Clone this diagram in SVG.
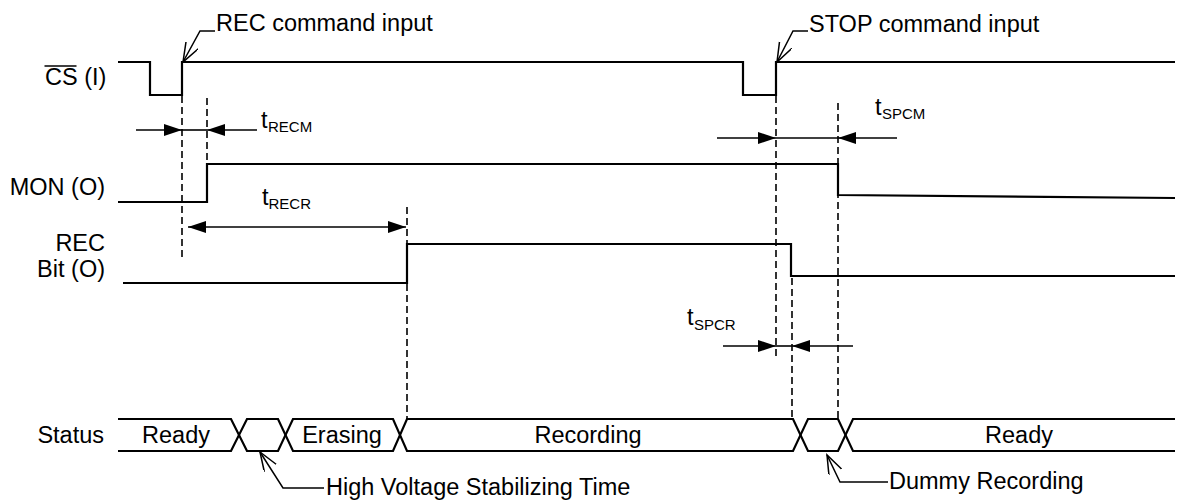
<svg xmlns="http://www.w3.org/2000/svg" width="1181" height="501" viewBox="0 0 1181 501">
<style>
text{font-family:"Liberation Sans",Arial,sans-serif;font-size:23.5px;fill:#000}
.sub{font-size:15px}
.lbl{text-anchor:end}
.mid{text-anchor:middle}
.sig{fill:none;stroke:#000;stroke-width:2.2;stroke-linejoin:miter}
.dash{fill:none;stroke:#000;stroke-width:1.6;stroke-dasharray:7,4}
.dim{fill:none;stroke:#000;stroke-width:1.6}
.lead{fill:none;stroke:#000;stroke-width:1.5}
</style>
<defs>
<marker id="tri" markerUnits="userSpaceOnUse" markerWidth="20" markerHeight="14" refX="18" refY="6" orient="auto-start-reverse">
<path d="M0,0 L18,6 L0,12 z" fill="#000"/>
</marker>
<marker id="open" markerUnits="userSpaceOnUse" markerWidth="22" markerHeight="16" refX="19" refY="7" orient="auto-start-reverse">
<path d="M0,0 L19,7 L0,14" fill="none" stroke="#000" stroke-width="1.5"/>
</marker>
</defs>
<rect width="1181" height="501" fill="#fff"/>

<g id="cs">
<text x="45" y="85">CS (I)</text>
<line x1="44.5" y1="66" x2="76.5" y2="66" stroke="#000" stroke-width="1.6"/>
<path class="sig" d="M118,62 H150 V95 H182 V62 H743 V95 H776 V62 H1175"/>
</g>

<g id="mon">
<text class="lbl" x="105" y="195">MON (O)</text>
<path class="sig" d="M118,202 H207 V164 H838 V195 L1175,198"/>
</g>

<g id="recbit">
<text class="lbl" x="105" y="251">REC</text>
<text class="lbl" x="105" y="277">Bit (O)</text>
<path class="sig" d="M123,283 H407 V244 H791 V276 H1175"/>
</g>

<g id="status">
<text class="lbl" x="104" y="443">Status</text>
<path class="sig" d="M118,419 H231 L247,451 H278 L293,419 H393 L407,451 H793 L808,419 H838 L853,451 H1175"/>
<path class="sig" d="M118,451 H231 L247,419 H278 L293,451 H393 L407,419 H793 L808,451 H838 L853,419 H1175"/>
<text class="mid" x="176" y="443">Ready</text>
<text class="mid" x="342" y="443">Erasing</text>
<text class="mid" x="588" y="443">Recording</text>
<text class="mid" x="1019" y="443">Ready</text>
</g>

<g id="connectors">
<line class="dash" x1="182" y1="96" x2="182" y2="257"/>
<line class="dash" x1="207" y1="98" x2="207" y2="164"/>
<line class="dash" x1="407" y1="207" x2="407" y2="419"/>
<line class="dash" x1="776" y1="96" x2="776" y2="358"/>
<line class="dash" x1="792" y1="278" x2="792" y2="419"/>
<line class="dash" x1="838" y1="103" x2="838" y2="419"/>

<line class="dim" x1="136" y1="130" x2="182" y2="130" marker-end="url(#tri)"/>
<line class="dim" x1="182" y1="130" x2="207" y2="130"/>
<line class="dim" x1="257" y1="130" x2="207" y2="130" marker-end="url(#tri)"/>

<line class="dim" x1="188" y1="227" x2="406" y2="227" marker-start="url(#tri)" marker-end="url(#tri)"/>

<line class="dim" x1="717" y1="138" x2="776" y2="138" marker-end="url(#tri)"/>
<line class="dim" x1="776" y1="138" x2="838" y2="138"/>
<line class="dim" x1="897" y1="138" x2="838" y2="138" marker-end="url(#tri)"/>

<line class="dim" x1="723" y1="346" x2="776" y2="346" marker-end="url(#tri)"/>
<line class="dim" x1="776" y1="346" x2="792" y2="346"/>
<line class="dim" x1="853" y1="346" x2="792" y2="346" marker-end="url(#tri)"/>

<polyline class="lead" points="183,62 200,31 215,31" marker-start="url(#open)"/>
<polyline class="lead" points="777,62 793,31 808,31" marker-start="url(#open)"/>
<polyline class="lead" points="260,452 283,488 324,488" marker-start="url(#open)"/>
<polyline class="lead" points="827,455 840,482 888,482" marker-start="url(#open)"/>
</g>

<g id="labels">
<text x="216" y="31">REC command input</text>
<text x="809" y="31.5">STOP command input</text>
<text x="326" y="495">High Voltage Stabilizing Time</text>
<text x="889" y="489">Dummy Recording</text>
<text x="261" y="128">t<tspan class="sub" x="268" y="132">RECM</tspan></text>
<text x="262" y="205">t<tspan class="sub" x="268.5" y="209">RECR</tspan></text>
<text x="875" y="115">t<tspan class="sub" x="882" y="119">SPCM</tspan></text>
<text x="687" y="325">t<tspan class="sub" x="694" y="330">SPCR</tspan></text>
</g>
</svg>
